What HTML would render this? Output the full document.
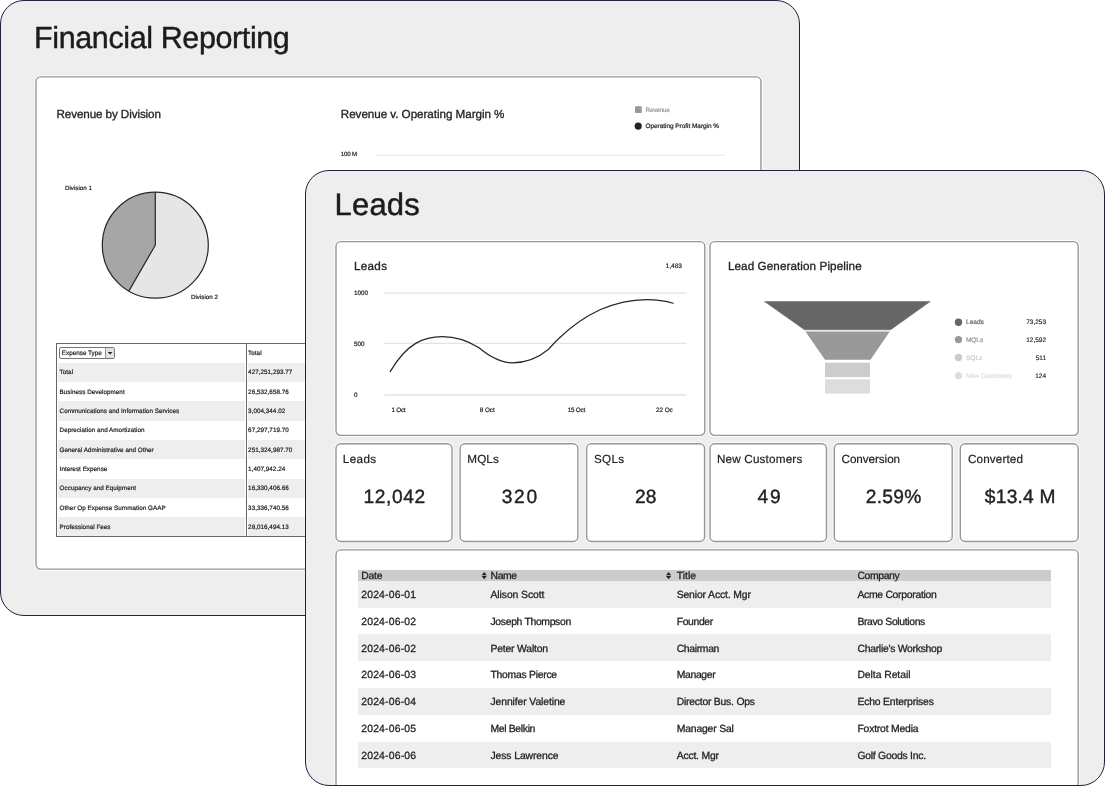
<!DOCTYPE html>
<html lang="en">
<head>
<meta charset="utf-8">
<title>Dashboards</title>
<style>
html,body{margin:0;padding:0;background:#fff;}
body{width:1105px;height:786px;position:relative;overflow:hidden;font-family:"Liberation Sans",sans-serif;color:#222;text-rendering:geometricPrecision;}
.card{position:absolute;box-sizing:border-box;width:800px;height:616px;border:1px solid #2e1c40;border-radius:24px;background:#eee;overflow:hidden;will-change:transform;}
.card>*,.abs{position:absolute;}
.panel{position:absolute;box-sizing:border-box;border-radius:5px;}
.t{position:absolute;white-space:pre;line-height:1;color:#222;-webkit-text-stroke:0.2px;}
.h1{color:#1c1c1c;-webkit-text-stroke:0.45px;}
.kv{-webkit-text-stroke:0.4px;}
.lb{-webkit-text-stroke:0.3px;}
.lt{-webkit-text-stroke:0.28px;}
svg{position:absolute;left:0;top:0;overflow:visible;}
.stripe{position:absolute;background:#eee;}
.hd{position:absolute;background:#ccc;}
</style>
</head>
<body>
<section class="card" id="financial" style="left:0px;top:0px;">
<span class="t h1" style="left:33.10px;top:22.45px;font-size:30.5px;letter-spacing:-0.393px;">Financial Reporting</span>
<svg width="798" height="614" viewBox="1 1 798 614">
<rect x="34.30" y="75.15" width="728.35" height="495.65" rx="6.6" fill="#fff" opacity="0.85"/>
<rect x="36.00" y="76.85" width="724.95" height="492.25" rx="4.8" fill="#fff" stroke="#969696" stroke-width="1.4"/>
</svg>
<div class="panel" style="left:35.00px;top:75.85px;width:724.95px;height:492.25px;"></div>
<svg width="798" height="614" viewBox="1 1 798 614">
<circle cx="155.3" cy="245.2" r="53.0" fill="#e6e6e6"/>
<path d="M155.3 245.2 L155.3 192.2 A53.0 53.0 0 0 0 128.80 291.10 Z" fill="#a6a6a6"/>
<path d="M155.3 192.2 L155.3 245.2 L128.80 291.10" fill="none" stroke="#262626" stroke-width="1.2"/>
<circle cx="155.3" cy="245.2" r="53.0" fill="none" stroke="#262626" stroke-width="1.2"/>
<rect x="635" y="106.2" width="6.8" height="6.8" rx="0.8" fill="#999"/>
<circle cx="638.2" cy="126.1" r="3.6" fill="#222"/>
<line x1="376.3" y1="155.2" x2="725" y2="155.2" stroke="#e2e2e2" stroke-width="1"/>
</svg>
<span class="t lb" style="left:55.50px;top:108.40px;font-size:11.7px;letter-spacing:-0.114px;">Revenue by Division</span>
<span class="t lb" style="left:339.80px;top:108.40px;font-size:11.7px;letter-spacing:-0.063px;">Revenue v. Operating Margin %</span>
<span class="t" style="left:64.00px;top:185.19px;font-size:6.2px;letter-spacing:0.008px;">Division 1</span>
<span class="t" style="left:190.00px;top:294.08px;font-size:6.2px;letter-spacing:0.008px;">Division 2</span>
<span class="t" style="left:339.80px;top:151.47px;font-size:6.2px;letter-spacing:-0.201px;">100 M</span>
<span class="t" style="left:644.50px;top:106.65px;font-size:6.4px;letter-spacing:-0.224px;color:#999;">Revenue</span>
<span class="t" style="left:644.50px;top:123.35px;font-size:6.4px;">Operating Profit Margin %</span>
<div class="abs" style="left:55.00px;top:342.00px;width:274.00px;height:193.80px;box-sizing:border-box;border:1px solid #666;border-right:none;background:#fff;"></div>
<div class="stripe" style="left:56.50px;top:361.80px;width:187.30px;height:19.30px;"></div><div class="stripe" style="left:247.00px;top:361.80px;width:82.00px;height:19.30px;"></div>
<div class="stripe" style="left:56.50px;top:400.40px;width:187.30px;height:19.30px;"></div><div class="stripe" style="left:247.00px;top:400.40px;width:82.00px;height:19.30px;"></div>
<div class="stripe" style="left:56.50px;top:439.00px;width:187.30px;height:19.30px;"></div><div class="stripe" style="left:247.00px;top:439.00px;width:82.00px;height:19.30px;"></div>
<div class="stripe" style="left:56.50px;top:477.60px;width:187.30px;height:19.30px;"></div><div class="stripe" style="left:247.00px;top:477.60px;width:82.00px;height:19.30px;"></div>
<div class="stripe" style="left:56.50px;top:516.20px;width:187.30px;height:19.30px;"></div><div class="stripe" style="left:247.00px;top:516.20px;width:82.00px;height:19.30px;"></div>
<div class="abs" style="left:245.20px;top:342.00px;width:1.00px;height:193.80px;background:#666;"></div>
<div class="abs" style="left:58.00px;top:346.00px;width:56.00px;height:12.00px;box-sizing:border-box;border:1px solid #777;background:#fff;border-radius:2px;"></div><div class="abs" style="left:104.00px;top:347.00px;width:9.00px;height:10.00px;box-sizing:border-box;border-left:1px solid #999;background:#e2e2e2;"></div><svg width="798" height="614" viewBox="1 1 798 614"><path d="M107.7 352 L112.5 352 L110.1 354.6 Z" fill="#222"/></svg>
<span class="t" style="left:60.80px;top:349.80px;font-size:6.4px;letter-spacing:-0.036px;">Expense Type</span>
<span class="t ft" style="left:247.10px;top:349.53px;font-size:6.3px;letter-spacing:0.033px;">Total</span>
<span class="t ft" style="left:58.60px;top:369.42px;font-size:6.3px;letter-spacing:0.033px;">Total</span>
<span class="t ft" style="left:247.10px;top:369.42px;font-size:6.3px;letter-spacing:0.034px;">427,251,293.77</span>
<span class="t ft" style="left:58.60px;top:389.08px;font-size:6.3px;letter-spacing:0.034px;">Business Development</span>
<span class="t ft" style="left:247.10px;top:389.08px;font-size:6.3px;letter-spacing:0.034px;">26,532,658.76</span>
<span class="t ft" style="left:58.60px;top:408.21px;font-size:6.3px;letter-spacing:0.031px;">Communications and Information Services</span>
<span class="t ft" style="left:247.10px;top:408.21px;font-size:6.3px;letter-spacing:0.033px;">3,004,344.02</span>
<span class="t ft" style="left:58.60px;top:427.24px;font-size:6.3px;letter-spacing:0.030px;">Depreciation and Amortization</span>
<span class="t ft" style="left:247.10px;top:427.24px;font-size:6.3px;letter-spacing:0.034px;">67,297,719.70</span>
<span class="t ft" style="left:58.60px;top:446.90px;font-size:6.3px;letter-spacing:0.030px;">General Administrative and Other</span>
<span class="t ft" style="left:247.10px;top:446.90px;font-size:6.3px;letter-spacing:0.034px;">251,324,987.70</span>
<span class="t ft" style="left:58.60px;top:465.77px;font-size:6.3px;letter-spacing:0.032px;">Interest Expense</span>
<span class="t ft" style="left:247.10px;top:465.77px;font-size:6.3px;letter-spacing:0.033px;">1,407,942.24</span>
<span class="t ft" style="left:58.60px;top:485.04px;font-size:6.3px;letter-spacing:0.034px;">Occupancy and Equipment</span>
<span class="t ft" style="left:247.10px;top:485.04px;font-size:6.3px;letter-spacing:0.034px;">16,330,406.66</span>
<span class="t ft" style="left:58.60px;top:504.70px;font-size:6.3px;letter-spacing:0.035px;">Other Op Expense Summation GAAP</span>
<span class="t ft" style="left:247.10px;top:504.70px;font-size:6.3px;letter-spacing:0.034px;">33,336,740.56</span>
<span class="t ft" style="left:58.60px;top:524.31px;font-size:6.3px;letter-spacing:0.032px;">Professional Fees</span>
<span class="t ft" style="left:247.10px;top:524.31px;font-size:6.3px;letter-spacing:0.034px;">28,016,494.13</span>
</section>
<section class="card" id="leads" style="left:305px;top:170px;">
<span class="t h1" style="left:28.60px;top:17.85px;font-size:31px;letter-spacing:0.183px;">Leads</span>
<svg width="798" height="614" viewBox="306 171 798 614">
<rect x="334.30" y="239.90" width="372.20" height="197.20" rx="6.6" fill="#fff" opacity="0.85"/>
<rect x="708.30" y="239.90" width="371.60" height="197.20" rx="6.6" fill="#fff" opacity="0.85"/>
<rect x="334.30" y="442.10" width="119.40" height="101.10" rx="6.6" fill="#fff" opacity="0.85"/>
<rect x="458.40" y="442.10" width="121.20" height="101.10" rx="6.6" fill="#fff" opacity="0.85"/>
<rect x="584.90" y="442.10" width="121.40" height="101.10" rx="6.6" fill="#fff" opacity="0.85"/>
<rect x="708.30" y="442.10" width="119.90" height="101.10" rx="6.6" fill="#fff" opacity="0.85"/>
<rect x="832.60" y="442.10" width="121.30" height="101.10" rx="6.6" fill="#fff" opacity="0.85"/>
<rect x="958.60" y="442.10" width="121.30" height="101.10" rx="6.6" fill="#fff" opacity="0.85"/>
<rect x="334.30" y="548.20" width="745.60" height="253.50" rx="6.6" fill="#fff" opacity="0.85"/>
<rect x="336.00" y="241.60" width="368.80" height="193.80" rx="4.8" fill="#fff" stroke="#969696" stroke-width="1.4"/>
<rect x="710.00" y="241.60" width="368.20" height="193.80" rx="4.8" fill="#fff" stroke="#969696" stroke-width="1.4"/>
<rect x="336.00" y="443.80" width="116.00" height="97.70" rx="4.8" fill="#fff" stroke="#969696" stroke-width="1.4"/>
<rect x="460.10" y="443.80" width="117.80" height="97.70" rx="4.8" fill="#fff" stroke="#969696" stroke-width="1.4"/>
<rect x="586.60" y="443.80" width="118.00" height="97.70" rx="4.8" fill="#fff" stroke="#969696" stroke-width="1.4"/>
<rect x="710.00" y="443.80" width="116.50" height="97.70" rx="4.8" fill="#fff" stroke="#969696" stroke-width="1.4"/>
<rect x="834.30" y="443.80" width="117.90" height="97.70" rx="4.8" fill="#fff" stroke="#969696" stroke-width="1.4"/>
<rect x="960.30" y="443.80" width="117.90" height="97.70" rx="4.8" fill="#fff" stroke="#969696" stroke-width="1.4"/>
<rect x="336.00" y="549.90" width="742.20" height="250.10" rx="4.8" fill="#fff" stroke="#969696" stroke-width="1.4"/>
</svg>
<div class="panel" style="left:30.00px;top:70.60px;width:368.80px;height:193.80px;"></div>
<div class="panel" style="left:404.00px;top:70.60px;width:368.20px;height:193.80px;"></div>
<svg width="798" height="614" viewBox="306 171 798 614">
<line x1="384.3" y1="293.1" x2="686.5" y2="293.1" stroke="#e3e3e3" stroke-width="1.3"/>
<line x1="384.3" y1="343.3" x2="686.5" y2="343.3" stroke="#e3e3e3" stroke-width="1.3"/>
<line x1="384.3" y1="395.0" x2="686.5" y2="395.0" stroke="#e3e3e3" stroke-width="1.3"/>
<path d="M390.2 371.6 C407 343 424 336.6 442.2 336.6 C456 336.6 470 342 479 347.8 C490 357 500 362.8 512.5 362.8 C525 362.8 538 358 548.3 349.5 C562 334 580 319 600 309.8 C618 302 634 299.6 646.5 299.6 C657 299.6 666 301 673.2 303.2" fill="none" stroke="#262626" stroke-width="1.2" stroke-linecap="round"/>
<path d="M764.5 301.6 L930.2 301.6 L890.6 329.8 L804.5 329.8 Z" fill="#666" stroke="#5e5e5e" stroke-width="0.5"/>
<path d="M805.4 331.5 L889.8 331.5 L870.5 359.8 L825 359.8 Z" fill="#999"/>
<rect x="825" y="362.7" width="45" height="14.4" fill="#ccc"/>
<rect x="825" y="379.3" width="45" height="14.3" fill="#ddd"/>
<circle cx="958.5" cy="322.2" r="3.7" fill="#666"/>
<circle cx="958.5" cy="339.6" r="3.7" fill="#999"/>
<circle cx="958.5" cy="357.5" r="3.7" fill="#ccc"/>
<circle cx="958.5" cy="375.6" r="3.7" fill="#ddd"/>
</svg>
<span class="t lb" style="left:48.00px;top:90.25px;font-size:11.7px;letter-spacing:0.285px;">Leads</span><span class="t" style="left:359.48px;top:92.66px;font-size:6.6px;">1,483</span>
<span class="t" style="left:48.00px;top:120.48px;font-size:6.3px;letter-spacing:-0.005px;">1000</span><span class="t" style="left:48.00px;top:170.73px;font-size:6.3px;">500</span><span class="t" style="left:48.00px;top:222.06px;font-size:6.3px;">0</span>
<div class="abs" style="left:78.00px;top:229.00px;width:289.30px;height:20.00px;overflow:hidden;"><span class="t" style="left:7.40px;top:7.76px;font-size:6.3px;letter-spacing:-0.221px;">1 Oct</span><span class="t" style="left:95.80px;top:7.76px;font-size:6.3px;letter-spacing:-0.041px;">8 Oct</span><span class="t" style="left:183.70px;top:7.76px;font-size:6.3px;letter-spacing:-0.221px;">15 Oct</span><span class="t" style="left:271.90px;top:7.76px;font-size:6.3px;">22 Oct</span></div>
<span class="t lb" style="left:421.90px;top:90.25px;font-size:11.7px;letter-spacing:0.082px;">Lead Generation Pipeline</span>
<span class="t" style="left:660.00px;top:149.03px;font-size:6.6px;letter-spacing:-0.042px;color:#666;">Leads</span><span class="t" style="left:720.21px;top:149.21px;font-size:6.5px;color:#333;">73,253</span><span class="t" style="left:660.00px;top:166.81px;font-size:6.6px;letter-spacing:-0.131px;color:#999;">MQLs</span><span class="t" style="left:720.21px;top:166.77px;font-size:6.5px;color:#333;">12,592</span><span class="t" style="left:660.00px;top:184.74px;font-size:6.6px;letter-spacing:-0.033px;color:#ccc;">SQLs</span><span class="t" style="left:729.72px;top:184.73px;font-size:6.5px;color:#333;">511</span><span class="t" style="left:660.00px;top:202.77px;font-size:6.6px;letter-spacing:-0.084px;color:#ddd;">New Customers</span><span class="t" style="left:729.24px;top:202.77px;font-size:6.5px;color:#333;">124</span>
<div class="panel" style="left:30.00px;top:272.80px;width:116.00px;height:97.70px;"></div><span class="t" style="left:36.80px;top:282.95px;font-size:11.7px;letter-spacing:0.360px;">Leads</span><span class="t kv" style="left:57.40px;top:316.60px;font-size:19.2px;letter-spacing:0.643px;">12,042</span>
<div class="panel" style="left:154.10px;top:272.80px;width:117.80px;height:97.70px;"></div><span class="t" style="left:161.30px;top:282.95px;font-size:11.7px;letter-spacing:0.109px;">MQLs</span><span class="t kv" style="left:195.70px;top:316.60px;font-size:19.2px;letter-spacing:1.742px;">320</span>
<div class="panel" style="left:280.60px;top:272.80px;width:118.00px;height:97.70px;"></div><span class="t" style="left:288.00px;top:282.95px;font-size:11.7px;letter-spacing:0.289px;">SQLs</span><span class="t kv" style="left:329.03px;top:316.60px;font-size:19.2px;">28</span>
<div class="panel" style="left:404.00px;top:272.80px;width:116.50px;height:97.70px;"></div><span class="t" style="left:410.90px;top:282.95px;font-size:11.7px;letter-spacing:0.188px;">New Customers</span><span class="t kv" style="left:451.60px;top:316.60px;font-size:19.2px;letter-spacing:1.656px;">49</span>
<div class="panel" style="left:528.30px;top:272.80px;width:117.90px;height:97.70px;"></div><span class="t" style="left:535.50px;top:282.95px;font-size:11.7px;letter-spacing:-0.058px;">Conversion</span><span class="t kv" style="left:559.70px;top:316.60px;font-size:19.2px;letter-spacing:0.323px;">2.59%</span>
<div class="panel" style="left:654.30px;top:272.80px;width:117.90px;height:97.70px;"></div><span class="t" style="left:662.00px;top:282.95px;font-size:11.7px;letter-spacing:0.133px;">Converted</span><span class="t kv" style="left:678.80px;top:316.60px;font-size:19.2px;letter-spacing:0.243px;">$13.4 M</span>
<div class="panel" style="left:30.00px;top:378.90px;width:742.20px;height:250.10px;"></div>
<div class="hd" style="left:51.60px;top:399.30px;width:693.20px;height:10.50px;"></div>
<div class="stripe" style="left:51.60px;top:409.80px;width:693.20px;height:26.80px;"></div><div class="stripe" style="left:51.60px;top:463.40px;width:693.20px;height:26.80px;"></div><div class="stripe" style="left:51.60px;top:517.00px;width:693.20px;height:26.80px;"></div><div class="stripe" style="left:51.60px;top:570.60px;width:693.20px;height:26.80px;"></div>
<svg width="798" height="614" viewBox="306 171 798 614"><path d="M481.6 575.2 L486.8 575.2 L484.2 571.9 Z M481.6 576.0 L486.8 576.0 L484.2 579.3 Z" fill="#222"/><path d="M666.0 575.2 L671.2 575.2 L668.6 571.9 Z M666.0 576.0 L671.2 576.0 L668.6 579.3 Z" fill="#222"/></svg>
<span class="t lt" style="left:55.20px;top:400.70px;font-size:10.4px;letter-spacing:-0.184px;">Date</span><span class="t lt" style="left:184.50px;top:400.70px;font-size:10.4px;letter-spacing:-0.364px;">Name</span><span class="t lt" style="left:370.70px;top:400.70px;font-size:10.4px;letter-spacing:0.012px;">Title</span><span class="t lt" style="left:551.40px;top:400.70px;font-size:10.4px;letter-spacing:-0.364px;">Company</span>
<span class="t lt" style="left:55.20px;top:420.04px;font-size:10.4px;letter-spacing:0.194px;">2024-06-01</span><span class="t lt" style="left:184.50px;top:420.04px;font-size:10.4px;letter-spacing:-0.089px;">Alison Scott</span><span class="t lt" style="left:370.70px;top:420.04px;font-size:10.4px;letter-spacing:-0.136px;">Senior Acct. Mgr</span><span class="t lt" style="left:551.40px;top:420.04px;font-size:10.4px;letter-spacing:-0.290px;">Acme Corporation</span>
<span class="t lt" style="left:55.20px;top:446.77px;font-size:10.4px;letter-spacing:0.194px;">2024-06-02</span><span class="t lt" style="left:184.50px;top:446.77px;font-size:10.4px;letter-spacing:-0.328px;">Joseph Thompson</span><span class="t lt" style="left:370.70px;top:446.77px;font-size:10.4px;letter-spacing:-0.364px;">Founder</span><span class="t lt" style="left:551.40px;top:446.77px;font-size:10.4px;letter-spacing:-0.349px;">Bravo Solutions</span>
<span class="t lt" style="left:55.20px;top:473.96px;font-size:10.4px;letter-spacing:0.194px;">2024-06-02</span><span class="t lt" style="left:184.50px;top:473.96px;font-size:10.4px;letter-spacing:-0.190px;">Peter Walton</span><span class="t lt" style="left:370.70px;top:473.96px;font-size:10.4px;letter-spacing:-0.335px;">Chairman</span><span class="t lt" style="left:551.40px;top:473.96px;font-size:10.4px;letter-spacing:-0.269px;">Charlie&#x27;s Workshop</span>
<span class="t lt" style="left:55.20px;top:499.97px;font-size:10.4px;letter-spacing:0.194px;">2024-06-03</span><span class="t lt" style="left:184.50px;top:499.97px;font-size:10.4px;letter-spacing:-0.273px;">Thomas Pierce</span><span class="t lt" style="left:370.70px;top:499.97px;font-size:10.4px;letter-spacing:-0.336px;">Manager</span><span class="t lt" style="left:551.40px;top:499.97px;font-size:10.4px;letter-spacing:-0.056px;">Delta Retail</span>
<span class="t lt" style="left:55.20px;top:526.96px;font-size:10.4px;letter-spacing:0.194px;">2024-06-04</span><span class="t lt" style="left:184.50px;top:526.96px;font-size:10.4px;letter-spacing:-0.109px;">Jennifer Valetine</span><span class="t lt" style="left:370.70px;top:526.96px;font-size:10.4px;letter-spacing:-0.231px;">Director Bus. Ops</span><span class="t lt" style="left:551.40px;top:526.96px;font-size:10.4px;letter-spacing:-0.175px;">Echo Enterprises</span>
<span class="t lt" style="left:55.20px;top:554.19px;font-size:10.4px;letter-spacing:0.194px;">2024-06-05</span><span class="t lt" style="left:184.50px;top:554.19px;font-size:10.4px;letter-spacing:-0.338px;">Mel Belkin</span><span class="t lt" style="left:370.70px;top:554.19px;font-size:10.4px;letter-spacing:-0.172px;">Manager Sal</span><span class="t lt" style="left:551.40px;top:554.19px;font-size:10.4px;letter-spacing:-0.194px;">Foxtrot Media</span>
<span class="t lt" style="left:55.20px;top:580.77px;font-size:10.4px;letter-spacing:0.194px;">2024-06-06</span><span class="t lt" style="left:184.50px;top:580.77px;font-size:10.4px;letter-spacing:-0.101px;">Jess Lawrence</span><span class="t lt" style="left:370.70px;top:580.77px;font-size:10.4px;letter-spacing:-0.199px;">Acct. Mgr</span><span class="t lt" style="left:551.40px;top:580.77px;font-size:10.4px;letter-spacing:-0.250px;">Golf Goods Inc.</span>
</section>
</body>
</html>
